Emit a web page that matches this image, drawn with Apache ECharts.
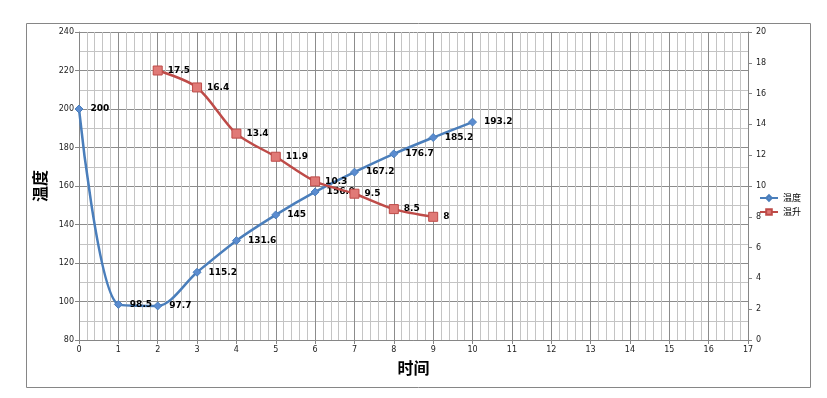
<!DOCTYPE html>
<html>
<head>
<meta charset="utf-8">
<script src="https://cdn.jsdelivr.net/npm/echarts@6/dist/echarts.min.js"></script>
<style>
  html, body { margin: 0; padding: 0; background: #fff; }
  #chart { width: 827px; height: 398px; }
</style>
</head>
<body>
<div id="chart"></div>
<script>
// 温度：时间 0..10
const tempX = [0, 1, 2, 3, 4, 5, 6, 7, 8, 9, 10];
const tempY = [200, 98.5, 97.7, 115.2, 131.6, 145, 156.9, 167.2, 176.7, 185.2, 193.2];
// 温升：时间 2..9（右轴）
const riseX = [2, 3, 4, 5, 6, 7, 8, 9];
const riseY = [17.5, 16.4, 13.4, 11.9, 10.3, 9.5, 8.5, 8];

const font = "Verdana, 'DejaVu Sans', 'Noto Sans CJK SC', sans-serif";
const cjk = "'Noto Sans CJK SC', sans-serif";

const chart = echarts.init(document.getElementById("chart"));

chart.setOption({
  animation: false,
  textStyle: { fontFamily: font },
  graphic: [
    {
      type: "rect",
      shape: { x: 26.5, y: 23.5, width: 784, height: 364 },
      style: { fill: "none", stroke: "#868686", lineWidth: 1 },
      silent: true,
      z: -1,
    },
  ],
  grid: { left: 79, right: 79, top: 32, bottom: 58 },
  legend: {
    orient: "vertical",
    right: 24,
    top: 193,
    padding: 0,
    itemGap: 4,
    itemWidth: 18,
    itemHeight: 7,
    textStyle: { fontSize: 9, color: "#000", fontFamily: cjk, width: 20, overflow: "none", lineHeight: 10 },
    data: ["温度", "温升"],
  },
  xAxis: {
    type: "value",
    min: 0,
    max: 17,
    interval: 1,
    name: "时间",
    nameLocation: "middle",
    nameGap: 20,
    nameTextStyle: { fontSize: 16, fontWeight: "bold", color: "#000", fontFamily: cjk },
    axisLine: { show: true, onZero: false, lineStyle: { color: "#868686" } },
    axisTick: { show: true, length: 4, lineStyle: { color: "#868686" } },
    axisLabel: { fontSize: 8, color: "#222", margin: 6 },
    splitLine: { show: true, lineStyle: { color: "#8c8c8c", width: 1 } },
    minorTick: { show: false, splitNumber: 5 },
    minorSplitLine: { show: true, lineStyle: { color: "#c4c4c4", width: 1 } },
  },
  yAxis: [
    {
      type: "value",
      min: 80,
      max: 240,
      interval: 20,
      name: "温度",
      nameLocation: "middle",
      nameGap: 26,
      nameRotate: 90,
      nameTextStyle: { fontSize: 16, fontWeight: "bold", color: "#000", fontFamily: cjk },
      axisLine: { show: true, lineStyle: { color: "#868686" } },
      axisTick: { show: true, length: 4, lineStyle: { color: "#868686" } },
      axisLabel: { fontSize: 8, color: "#222", margin: 5 },
      splitLine: { show: true, lineStyle: { color: "#8c8c8c", width: 1 } },
      minorTick: { show: false, splitNumber: 2 },
      minorSplitLine: { show: true, lineStyle: { color: "#c4c4c4", width: 1 } },
    },
    {
      type: "value",
      min: 0,
      max: 20,
      interval: 2,
      position: "right",
      axisLine: { show: true, lineStyle: { color: "#868686" } },
      axisTick: { show: true, length: 4, lineStyle: { color: "#868686" } },
      axisLabel: { fontSize: 8, color: "#222", margin: 8 },
      splitLine: { show: false },
    },
  ],
  series: [
    {
      name: "温度",
      type: "line",
      yAxisIndex: 0,
      smooth: 0.3,
      data: tempX.map((x, i) => [x, tempY[i]]),
      symbol: "diamond",
      symbolSize: 8,
      lineStyle: { color: "#4a7ebb", width: 2.5 },
      itemStyle: { color: "#5b8cd0", borderColor: "#4a7ebb", borderWidth: 1 },
      label: {
        show: true,
        position: "right",
        distance: 7,
        fontSize: 9,
        fontWeight: "bold",
        color: "#000",
        formatter: (p) => p.value[1],
      },
      z: 3,
    },
    {
      name: "温升",
      type: "line",
      yAxisIndex: 1,
      smooth: 0.3,
      data: riseX.map((x, i) => [x, riseY[i]]),
      symbol: "rect",
      symbolSize: 9,
      lineStyle: { color: "#be4b48", width: 2.5 },
      itemStyle: { color: "#e07a77", borderColor: "#be4b48", borderWidth: 1 },
      label: {
        show: true,
        position: "right",
        distance: 5,
        fontSize: 9,
        fontWeight: "bold",
        color: "#000",
        formatter: (p) => p.value[1],
      },
      z: 4,
    },
  ],
});
</script>
</body>
</html>
